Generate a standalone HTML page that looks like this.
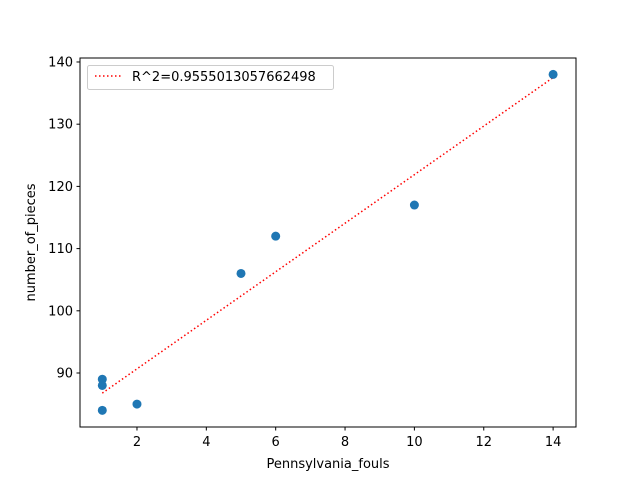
<!DOCTYPE html>
<html><head><meta charset="utf-8"><style>
body{margin:0;background:#fff;}
text{font-family:"DejaVu Sans","Liberation Sans",sans-serif;}
</style></head><body>
<svg id="chart" width="640" height="480" xmlns="http://www.w3.org/2000/svg"></svg>
<script>
const xValues=[1,1,1,2,5,6,10,14];
const yValues=[89,88,84,85,106,112,117,138];
const xTicks=[2,4,6,8,10,12,14];
const yTicks=[90,100,110,120,130,140];
const legendLabel="R^2=0.9555013057662498";
const L=80,R=576,T=58,B=427;
const xmin=0.357,xmax=14.66,ymin=81.32,ymax=140.64;
const sx=v=>L+(v-xmin)/(xmax-xmin)*(R-L);
const sy=v=>B-(v-ymin)/(ymax-ymin)*(B-T);
const svg=document.getElementById('chart');
const NS='http://www.w3.org/2000/svg';
function mk(tag,attrs,parent){const e=document.createElementNS(NS,tag);for(const k in attrs)e.setAttribute(k,attrs[k]);(parent||svg).appendChild(e);return e;}
const n=xValues.length;const mx=xValues.reduce((a,b)=>a+b)/n,my=yValues.reduce((a,b)=>a+b)/n;
let sxx=0,sxy=0;for(let i=0;i<n;i++){sxx+=(xValues[i]-mx)**2;sxy+=(xValues[i]-mx)*(yValues[i]-my);}
const slope=sxy/sxx,icpt=my-slope*mx;
const x0=Math.min(...xValues),x1=Math.max(...xValues);
const fit=mk('line',{x1:sx(x0),y1:sy(slope*x0+icpt),x2:sx(x1),y2:sy(slope*x1+icpt),stroke:'red','stroke-width':1.5,'stroke-dasharray':'1.5,2.5'});


for(let i=0;i<n;i++){const c=mk('circle',{cx:sx(xValues[i]),cy:sy(yValues[i]),r:4.5,fill:'#1f77b4'});

}
const frame=mk('rect',{x:L,y:T,width:R-L,height:B-T,fill:'none',stroke:'#000','stroke-width':1});


xTicks.forEach(t=>{const x=sx(t);mk('line',{x1:x,y1:B,x2:x,y2:B+3.5,stroke:'#000'});
const tx=mk('text',{x:x,y:B+19,'font-size':13,'text-anchor':'middle'});tx.textContent=t;

});
yTicks.forEach(t=>{const y=sy(t);mk('line',{x1:L-3.5,y1:y,x2:L,y2:y,stroke:'#000'});
const tx=mk('text',{x:L-7,y:y+4.5,'font-size':13,'text-anchor':'end'});tx.textContent=t;

});
const xt=mk('text',{x:(L+R)/2,y:468,'font-size':13,'text-anchor':'middle'});xt.textContent='Pennsylvania_fouls';


const yt=mk('text',{x:35,y:(T+B)/2,'font-size':13,'text-anchor':'middle',transform:`rotate(-90 35 ${(T+B)/2})`});yt.textContent='number_of_pieces';


const lg=mk('g',{});


mk('rect',{x:87.5,y:65.5,width:246,height:24,rx:2,fill:'#fff',stroke:'#ccc'},lg);
mk('line',{x1:95,y1:76,x2:123,y2:76,stroke:'red','stroke-width':1.5,'stroke-dasharray':'1.5,2.5'},lg);
const lt=mk('text',{x:132,y:81,'font-size':13},lg);lt.textContent=legendLabel;
</script>
</body></html>
